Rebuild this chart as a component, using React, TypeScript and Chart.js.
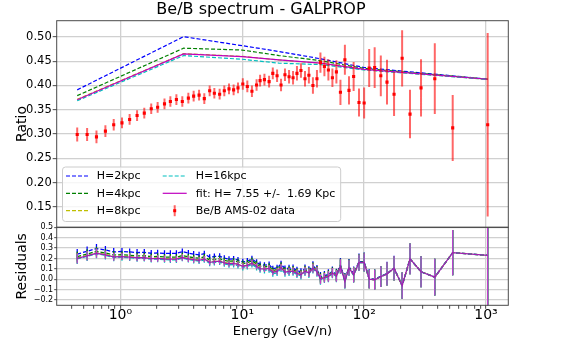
import { useEffect, useRef } from 'react';
import { Chart, registerables } from 'chart.js';
Chart.register(...registerables);

const FONT = "'DejaVu Sans', 'Liberation Sans', sans-serif";

// AMS-02 Be/B data (kinetic energy per nucleon, GeV/n)
const energy = [0.442, 0.533, 0.636, 0.753, 0.881, 1.03, 1.19, 1.37, 1.57, 1.79, 2.02, 2.30, 2.57, 2.88, 3.22, 3.61, 3.99, 4.42, 4.88, 5.40, 5.90, 6.52, 7.12, 7.78, 8.49, 9.22, 10.1, 11.0, 12.0, 13.1, 14.0, 15.2, 16.6, 17.8, 19.3, 20.8, 22.4, 24.2, 26.1, 28.1, 30.3, 32.7, 35.2, 38.0, 41.0, 43.8, 47.2, 50.9, 54.9, 59.2, 63.9, 69.5, 75.1, 82.0, 90.7, 100, 110, 122, 137, 154, 176, 205, 238, 293, 380, 533, 1032];
const ratio = [0.299, 0.299, 0.294, 0.306, 0.319, 0.323, 0.330, 0.338, 0.343, 0.352, 0.355, 0.362, 0.367, 0.371, 0.367, 0.374, 0.378, 0.380, 0.373, 0.389, 0.384, 0.382, 0.389, 0.393, 0.391, 0.395, 0.403, 0.398, 0.388, 0.401, 0.410, 0.412, 0.408, 0.425, 0.420, 0.401, 0.422, 0.418, 0.416, 0.425, 0.431, 0.414, 0.421, 0.400, 0.414, 0.447, 0.439, 0.432, 0.416, 0.428, 0.386, 0.453, 0.390, 0.4185, 0.365, 0.364, 0.436, 0.437, 0.420, 0.407, 0.382, 0.456, 0.341, 0.395, 0.414, 0.3125, 0.319];
const ratioErr = [0.0145, 0.0135, 0.013, 0.012, 0.012, 0.011, 0.011, 0.011, 0.011, 0.011, 0.011, 0.011, 0.011, 0.011, 0.011, 0.011, 0.011, 0.011, 0.011, 0.011, 0.011, 0.011, 0.011, 0.011, 0.011, 0.011, 0.012, 0.012, 0.012, 0.012, 0.012, 0.012, 0.012, 0.012, 0.013, 0.013, 0.013, 0.014, 0.014, 0.015, 0.015, 0.016, 0.017, 0.017, 0.018, 0.021, 0.020, 0.022, 0.019, 0.024, 0.026, 0.031, 0.029, 0.030, 0.029, 0.032, 0.039, 0.042, 0.042, 0.046, 0.045, 0.058, 0.050, 0.059, 0.073, 0.068, 0.189];

// GALPROP model curves
const modelEnergy = [0.442, 3.30, 10.0, 20.0, 44.0, 100, 1032];
const modelH2 = [0.391, 0.5006, 0.482, 0.470, 0.455, 0.437, 0.413];
const modelH4 = [0.379, 0.4768, 0.473, 0.4617, 0.451, 0.435, 0.413];
const modelH8 = [0.3715, 0.4655, 0.460, 0.4525, 0.4458, 0.4328, 0.4127];
const modelH16 = [0.3686, 0.4616, 0.454, 0.446, 0.443, 0.432, 0.4125];
const modelFit = [0.3706, 0.465, 0.4596, 0.4528, 0.446, 0.433, 0.4128];

// Residuals at each data energy
const resH2 = [0.242, 0.269, 0.295, 0.282, 0.263, 0.267, 0.263, 0.257, 0.258, 0.250, 0.253, 0.249, 0.248, 0.249, 0.266, 0.252, 0.242, 0.235, 0.246, 0.212, 0.219, 0.221, 0.204, 0.194, 0.196, 0.185, 0.166, 0.174, 0.194, 0.163, 0.141, 0.135, 0.141, 0.101, 0.109, 0.147, 0.100, 0.107, 0.107, 0.085, 0.070, 0.103, 0.085, 0.129, 0.095, 0.022, 0.034, 0.045, 0.077, 0.046, 0.137, -0.007, 0.121, 0.051, 0.169, 0.170, 0.007, 0.001, 0.028, 0.055, 0.107, -0.061, 0.196, 0.072, 0.020, 0.256, 0.230];
const resH4 = [0.218, 0.243, 0.268, 0.253, 0.233, 0.236, 0.231, 0.225, 0.226, 0.217, 0.219, 0.214, 0.212, 0.212, 0.228, 0.216, 0.208, 0.203, 0.216, 0.184, 0.192, 0.197, 0.181, 0.173, 0.176, 0.168, 0.150, 0.158, 0.178, 0.147, 0.125, 0.119, 0.125, 0.085, 0.093, 0.131, 0.085, 0.092, 0.093, 0.071, 0.057, 0.091, 0.073, 0.117, 0.085, 0.012, 0.024, 0.036, 0.069, 0.039, 0.130, -0.014, 0.115, 0.046, 0.165, 0.166, 0.003, -0.003, 0.025, 0.052, 0.105, -0.062, 0.196, 0.072, 0.020, 0.256, 0.230];
const resH8 = [0.203, 0.228, 0.253, 0.238, 0.218, 0.221, 0.216, 0.210, 0.210, 0.201, 0.203, 0.198, 0.196, 0.196, 0.212, 0.199, 0.191, 0.185, 0.198, 0.165, 0.173, 0.177, 0.161, 0.152, 0.155, 0.146, 0.128, 0.137, 0.158, 0.128, 0.106, 0.101, 0.108, 0.069, 0.078, 0.117, 0.071, 0.079, 0.081, 0.060, 0.046, 0.081, 0.064, 0.109, 0.077, 0.004, 0.017, 0.029, 0.063, 0.033, 0.123, -0.020, 0.109, 0.041, 0.160, 0.162, 0.000, -0.005, 0.024, 0.052, 0.105, -0.062, 0.196, 0.072, 0.020, 0.256, 0.230];
const resH16 = [0.195, 0.220, 0.245, 0.230, 0.210, 0.213, 0.208, 0.202, 0.202, 0.193, 0.194, 0.189, 0.187, 0.187, 0.203, 0.190, 0.181, 0.175, 0.187, 0.154, 0.162, 0.165, 0.149, 0.139, 0.142, 0.132, 0.114, 0.123, 0.143, 0.113, 0.091, 0.085, 0.092, 0.052, 0.061, 0.101, 0.055, 0.064, 0.067, 0.046, 0.033, 0.069, 0.052, 0.098, 0.066, -0.005, 0.009, 0.021, 0.056, 0.026, 0.119, -0.024, 0.106, 0.038, 0.158, 0.160, 0.000, -0.005, 0.024, 0.052, 0.105, -0.062, 0.196, 0.072, 0.020, 0.256, 0.230];
const resFit = [0.200, 0.225, 0.250, 0.235, 0.215, 0.218, 0.213, 0.207, 0.207, 0.198, 0.200, 0.195, 0.193, 0.193, 0.209, 0.196, 0.188, 0.182, 0.195, 0.162, 0.170, 0.174, 0.158, 0.149, 0.152, 0.143, 0.125, 0.134, 0.155, 0.125, 0.103, 0.098, 0.105, 0.066, 0.075, 0.114, 0.068, 0.076, 0.078, 0.057, 0.043, 0.078, 0.061, 0.106, 0.074, 0.002, 0.015, 0.027, 0.061, 0.031, 0.123, -0.020, 0.109, 0.041, 0.160, 0.162, 0.000, -0.005, 0.024, 0.052, 0.105, -0.062, 0.196, 0.072, 0.020, 0.256, 0.230];
const resErr = [0.048, 0.045, 0.044, 0.039, 0.038, 0.034, 0.033, 0.033, 0.032, 0.031, 0.031, 0.030, 0.030, 0.030, 0.030, 0.029, 0.029, 0.029, 0.029, 0.028, 0.029, 0.029, 0.028, 0.028, 0.028, 0.028, 0.030, 0.030, 0.031, 0.030, 0.029, 0.029, 0.029, 0.028, 0.031, 0.032, 0.031, 0.033, 0.034, 0.035, 0.035, 0.039, 0.040, 0.043, 0.043, 0.047, 0.046, 0.051, 0.046, 0.056, 0.067, 0.068, 0.074, 0.072, 0.079, 0.088, 0.089, 0.096, 0.100, 0.113, 0.118, 0.127, 0.147, 0.149, 0.176, 0.218, 0.592];

// Axis ticks
const xTickValues = [0.4, 0.5, 0.6, 0.7, 0.8, 0.9, 1, 2, 3, 4, 5, 6, 7, 8, 9, 10, 20, 30, 40, 50, 60, 70, 80, 90, 100, 200, 300, 400, 500, 600, 700, 800, 900, 1000];
const xTickLabels: Record<string, string> = { '1': '10\u2070', '10': '10\u00b9', '100': '10\u00b2', '1000': '10\u00b3' };

const C_BLUE = '#0000ff';
const C_GREEN = '#008000';
const C_YELLOW = '#bfbf00';
const C_CYAN = '#00bfbf';
const C_MAG = '#bf00bf';
const GRID = '#d0d0d0';
const FRAME = '#4a4a4a';

const pts = (xs: number[], ys: number[]) => xs.map((x, i) => ({ x, y: ys[i] }));

const errorBarPlugin = {
  id: 'errorBars',
  beforeDatasetDraw(chart: any, args: any) {
    const ds = chart.data.datasets[args.index];
    if (!ds.errs) return;
    const ys = chart.scales[ds.yAxisID];
    const ca = chart.chartArea;
    const ctx = chart.ctx;
    ctx.save();
    ctx.beginPath();
    ctx.rect(ca.left, ys.top, ca.right - ca.left, ys.bottom - ys.top);
    ctx.clip();
    ctx.strokeStyle = ds.errColor;
    ctx.lineWidth = ds.errWidth;
    ctx.setLineDash([]);
    ctx.beginPath();
    args.meta.data.forEach((el: any, i: number) => {
      const v = ds.data[i].y;
      const e = ds.errs[i];
      ctx.moveTo(el.x, ys.getPixelForValue(v - e));
      ctx.lineTo(el.x, ys.getPixelForValue(v + e));
    });
    ctx.stroke();
    ctx.restore();
  },
};

const legendItems = [
  { label: 'H=2kpc', color: C_BLUE, kind: 'dash', col: 0, row: 0 },
  { label: 'H=4kpc', color: C_GREEN, kind: 'dash', col: 0, row: 1 },
  { label: 'H=8kpc', color: C_YELLOW, kind: 'dash', col: 0, row: 2 },
  { label: 'H=16kpc', color: C_CYAN, kind: 'dash', col: 1, row: 0 },
  { label: 'fit: H= 7.55 +/-  1.69 Kpc', color: C_MAG, kind: 'line', col: 1, row: 1 },
  { label: 'Be/B AMS-02 data', color: '#ff0000', kind: 'err', col: 1, row: 2 },
];

const framePlugin = {
  id: 'framesAndLegend',
  afterDraw(chart: any) {
    const ctx = chart.ctx;
    const ca = chart.chartArea;
    const yTop = chart.scales.y;
    const yRes = chart.scales.yr;
    // legend box
    const bx = ca.left + 5.8;
    const by = yTop.bottom - 60.3;
    const bw = 278.2;
    const bh = 54.5;
    ctx.save();
    ctx.beginPath();
    const r = 3;
    ctx.moveTo(bx + r, by);
    ctx.lineTo(bx + bw - r, by);
    ctx.arcTo(bx + bw, by, bx + bw, by + r, r);
    ctx.lineTo(bx + bw, by + bh - r);
    ctx.arcTo(bx + bw, by + bh, bx + bw - r, by + bh, r);
    ctx.lineTo(bx + r, by + bh);
    ctx.arcTo(bx, by + bh, bx, by + bh - r, r);
    ctx.lineTo(bx, by + r);
    ctx.arcTo(bx, by, bx + r, by, r);
    ctx.closePath();
    ctx.fillStyle = 'rgba(255,255,255,0.8)';
    ctx.fill();
    ctx.strokeStyle = '#cccccc';
    ctx.lineWidth = 1;
    ctx.stroke();
    const rowY = [9, 26.3, 43.7];
    const colH = [[3.5, 26.8, 34.2], [100.2, 124.2, 133.2]];
    ctx.font = `11px ${FONT}`;
    ctx.textBaseline = 'middle';
    ctx.textAlign = 'left';
    legendItems.forEach((it) => {
      const y = by + rowY[it.row];
      const [h0, h1, tx] = colH[it.col];
      if (it.kind === 'err') {
        const cx = bx + (h0 + h1) / 2;
        ctx.strokeStyle = 'rgba(255,0,0,0.6)';
        ctx.lineWidth = 2;
        ctx.setLineDash([]);
        ctx.beginPath();
        ctx.moveTo(cx, y - 5.5);
        ctx.lineTo(cx, y + 5.5);
        ctx.stroke();
        ctx.fillStyle = '#ff0000';
        ctx.fillRect(cx - 1.5, y - 1.5, 3, 3);
      } else {
        ctx.strokeStyle = it.color;
        ctx.lineWidth = 1.2;
        ctx.setLineDash(it.kind === 'dash' ? [4, 2] : []);
        ctx.beginPath();
        ctx.moveTo(bx + h0, y);
        ctx.lineTo(bx + h1, y);
        ctx.stroke();
      }
      ctx.setLineDash([]);
      ctx.fillStyle = '#000000';
      ctx.fillText(it.label, bx + tx, y + 0.5);
    });
    // frames
    ctx.strokeStyle = FRAME;
    ctx.lineWidth = 1;
    ctx.strokeRect(ca.left, yTop.top, ca.right - ca.left, yTop.bottom - yTop.top);
    ctx.strokeRect(ca.left, yRes.top, ca.right - ca.left, yRes.bottom - yRes.top);
    ctx.restore();
  },
};

const fmtRes = (v: number) => {
  if (Math.abs(v) < 1e-9) return '0.0';
  return v < 0 ? '\u2212' + Math.abs(v).toFixed(1) : v.toFixed(1);
};

export default function App() {
  const ref = useRef<HTMLCanvasElement>(null);
  useEffect(() => {
    const modelDs = (label: string, vals: number[], color: string, dashed: boolean, order: number) => ({
      type: 'line' as const,
      label,
      data: pts(modelEnergy, vals),
      yAxisID: 'y',
      borderColor: color,
      borderWidth: 1.2,
      borderDash: dashed ? [4, 2] : [],
      pointRadius: 0,
      fill: false,
      tension: 0,
      order,
    });
    const resDs = (label: string, vals: number[], color: string, errColor: string, dashed: boolean, order: number) => ({
      type: 'line' as const,
      label,
      data: pts(energy, vals),
      yAxisID: 'yr',
      borderColor: color,
      borderWidth: 1.3,
      borderDash: dashed ? [4, 2] : [],
      pointRadius: 0,
      fill: false,
      tension: 0,
      order,
      errs: resErr,
      errColor,
      errWidth: 1.3,
    });
    const chart = new Chart(ref.current as HTMLCanvasElement, {
      type: 'line',
      data: {
        datasets: [
          modelDs('H=2kpc', modelH2, C_BLUE, true, 10),
          modelDs('H=4kpc', modelH4, C_GREEN, true, 9),
          modelDs('H=8kpc', modelH8, C_YELLOW, true, 8),
          modelDs('H=16kpc', modelH16, C_CYAN, true, 7),
          modelDs('fit', modelFit, C_MAG, false, 6),
          {
            type: 'line',
            label: 'Be/B AMS-02 data',
            data: pts(energy, ratio),
            yAxisID: 'y',
            showLine: false,
            pointStyle: 'rect',
            pointRadius: 2.2,
            pointBackgroundColor: '#ff0000',
            pointBorderColor: '#ff0000',
            pointBorderWidth: 0,
            order: 5,
            errs: ratioErr,
            errColor: 'rgba(255,0,0,0.6)',
            errWidth: 2,
          } as any,
          resDs('rH2', resH2, C_BLUE, C_BLUE, true, 10),
          resDs('rH4', resH4, C_GREEN, C_GREEN, true, 9),
          resDs('rH8', resH8, C_YELLOW, C_YELLOW, true, 8),
          resDs('rH16', resH16, C_CYAN, C_CYAN, true, 7),
          resDs('rFit', resFit, '#a020b0', '#c040cc', false, 6),
        ] as any,
      },
      options: {
        responsive: false,
        devicePixelRatio: 1,
        animation: false,
        events: [],
        layout: { padding: { left: 13.6, right: 56.7, top: 0, bottom: 0 } },
        plugins: {
          legend: { display: false },
          tooltip: { enabled: false },
          title: {
            display: true,
            text: 'Be/B spectrum - GALPROP',
            color: '#000000',
            font: { family: FONT, size: 16, weight: 'normal' },
            padding: { top: 0, bottom: 1.5 },
          },
        },
        scales: {
          x: {
            type: 'logarithmic',
            position: 'bottom',
            min: 0.303,
            max: 1524,
            afterBuildTicks: (s: any) => {
              s.ticks = xTickValues.map((v) => ({ value: v }));
            },
            afterFit: (s: any) => {
              s.height = 33.7;
            },
            ticks: {
              autoSkip: false,
              maxRotation: 0,
              padding: -2,
              color: '#000000',
              font: { family: FONT, size: 14 },
              callback: (v: any) => xTickLabels[String(v)] ?? '',
            },
            grid: {
              color: (c: any) => (c.tick && xTickLabels[String(c.tick.value)] ? GRID : 'rgba(0,0,0,0)'),
              lineWidth: 1.3,
              tickColor: FRAME,
              tickLength: 3.5,
              tickWidth: 1,
            },
            border: { display: false },
            title: {
              display: true,
              text: 'Energy (GeV/n)',
              color: '#000000',
              font: { family: FONT, size: 13 },
              padding: { top: 0, bottom: 0 },
            },
          },
          yr: {
            type: 'linear',
            position: 'left',
            stack: 'panels',
            stackWeight: 78,
            min: -0.251,
            max: 0.5,
            afterFit: (s: any) => {
              s.width = 43.1;
            },
            ticks: {
              stepSize: 0.1,
              includeBounds: false,
              autoSkip: false,
              padding: 1,
              color: '#000000',
              font: { family: FONT, size: 8 },
              callback: (v: any) => fmtRes(Number(v)),
            },
            grid: { color: GRID, lineWidth: 1.3, tickColor: FRAME, tickLength: 2.5, tickWidth: 1 },
            border: { display: false },
            title: {
              display: true,
              text: 'Residuals',
              color: '#000000',
              font: { family: FONT, size: 14 },
              padding: { top: 0, bottom: 0 },
            },
          },
          y: {
            type: 'linear',
            position: 'left',
            stack: 'panels',
            stackWeight: 206.6,
            min: 0.1077,
            max: 0.5335,
            afterFit: (s: any) => {
              s.width = 43.1;
            },
            ticks: {
              stepSize: 0.05,
              includeBounds: false,
              autoSkip: false,
              padding: 1,
              color: '#000000',
              font: { family: FONT, size: 11.5 },
              callback: (v: any) => Number(v).toFixed(2),
            },
            grid: { color: GRID, lineWidth: 1.3, tickColor: FRAME, tickLength: 4, tickWidth: 1 },
            border: { display: false },
            title: {
              display: true,
              text: 'Ratio',
              color: '#000000',
              font: { family: FONT, size: 14 },
              padding: { top: 0, bottom: 0 },
            },
          },
        },
      } as any,
      plugins: [errorBarPlugin, framePlugin],
    });
    return () => chart.destroy();
  }, []);
  return (
    <div style={{ position: 'absolute', left: 0, top: 0, width: 565, height: 339 }}>
      <canvas ref={ref} width={565} height={339} style={{ width: 565, height: 339, display: 'block' }} />
    </div>
  );
}
